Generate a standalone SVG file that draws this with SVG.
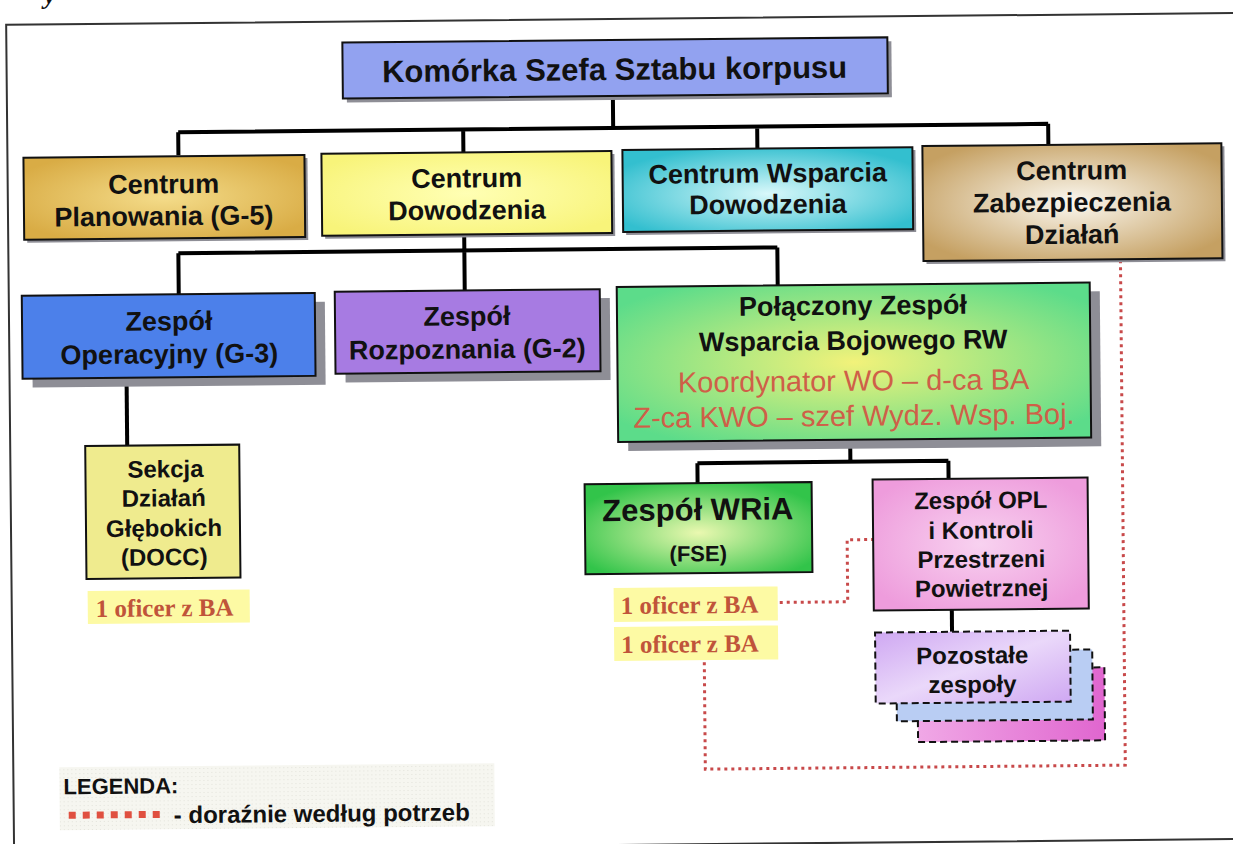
<svg xmlns="http://www.w3.org/2000/svg" width="1233" height="844" viewBox="0 0 1233 844">
  <defs>
    <style>
      .box { stroke: #111; stroke-width: 2; }
      .dash { stroke: #111; stroke-width: 2; stroke-dasharray: 7 4; }
      .shadow { fill: #8e8e96; }
      .t { font-family: "Liberation Sans", Arial, sans-serif; font-weight: bold; fill: #111; text-anchor: middle; }
      .red { font-family: "Liberation Sans", Arial, sans-serif; fill: #cf5f48; text-anchor: middle; }
      .lbl { font-family: "Liberation Serif", "Times New Roman", serif; font-weight: bold; fill: #c0543a; }
      .lblbg { fill: #fdfaa4; }
      .link { fill: none; stroke: #000; stroke-width: 4; stroke-linejoin: miter; }
      .adhoc { fill: none; stroke: #c8494a; stroke-width: 3; stroke-dasharray: 3 4; }
    </style>
    <radialGradient id="gGold" cx="50%" cy="50%" r="60%">
      <stop offset="0" stop-color="#f4dc8a"/>
      <stop offset="1" stop-color="#d9ac45"/>
    </radialGradient>
    <radialGradient id="gYellow" cx="50%" cy="50%" r="60%">
      <stop offset="0" stop-color="#ffffb4"/>
      <stop offset="1" stop-color="#f8f47a"/>
    </radialGradient>
    <radialGradient id="gCyan" cx="50%" cy="55%" r="60%">
      <stop offset="0" stop-color="#d8f8fa"/>
      <stop offset="1" stop-color="#33bfcf"/>
    </radialGradient>
    <radialGradient id="gTan" cx="50%" cy="50%" r="60%">
      <stop offset="0" stop-color="#fbf8f0"/>
      <stop offset="1" stop-color="#c5a062"/>
    </radialGradient>
    <radialGradient id="gGreen" cx="50%" cy="50%" r="62%">
      <stop offset="0" stop-color="#f2f27a"/>
      <stop offset="1" stop-color="#5cdc8a"/>
    </radialGradient>
    <radialGradient id="gWria" cx="50%" cy="55%" r="60%">
      <stop offset="0" stop-color="#eaf8b0"/>
      <stop offset="1" stop-color="#32c44a"/>
    </radialGradient>
    <radialGradient id="gPink" cx="50%" cy="50%" r="60%">
      <stop offset="0" stop-color="#f8d2f0"/>
      <stop offset="1" stop-color="#ee9cdc"/>
    </radialGradient>
    <linearGradient id="gLav" x1="0" y1="0" x2="1" y2="1">
      <stop offset="0" stop-color="#cfa8f2"/>
      <stop offset="0.5" stop-color="#ead8fa"/>
      <stop offset="1" stop-color="#cfa8f2"/>
    </linearGradient>
    <linearGradient id="gMag" x1="0" y1="0" x2="1" y2="0">
      <stop offset="0" stop-color="#f0a8e6"/>
      <stop offset="1" stop-color="#e066cf"/>
    </linearGradient>
    <pattern id="legendDots" width="4" height="4" patternUnits="userSpaceOnUse">
      <rect width="4" height="4" fill="#f6f6f0"/>
      <rect width="1" height="1" fill="#e2e2da"/>
    </pattern>
  </defs>

  <rect width="1233" height="844" fill="#ffffff"/>
  <text x="44" y="4" font-family="Liberation Serif, serif" font-weight="bold" font-style="italic" font-size="26" fill="#111">y</text>

  <g transform="rotate(-0.55 616 422)">
    <!-- page frame -->
    <rect x="10" y="19" width="1240" height="826" fill="none" stroke="#333" stroke-width="2"/>

    <!-- connectors -->
    <g id="connectors">
      <path class="link" d="M616 96 V128 M181 128 H1051 M181 128 V151 M466 128 V151 M760 128 V151 M1051 128 V151"/>
      <path class="link" d="M466 232 V289 M180 249 H779 M180 249 V290 M779 249 V287"/>
      <path class="link" d="M127 373 V441"/>
      <path class="link" d="M850 442 V464 M697 464 H948 M697 464 V484 M948 464 V482"/>
      <path class="link" d="M950 613 V635"/>
      <path class="adhoc" d="M778 604 H846 V542 H872"/>
      <path class="adhoc" d="M1122 265 V770 H702 V662"/>
    </g>

    <g id="chief">
      <rect class="shadow" x="350" y="44" width="545" height="56"/>
      <rect class="box" x="346" y="40" width="545" height="56" fill="#92a2f0"/>
      <text class="t" x="618" y="80" font-size="31">Komórka Szefa Sztabu korpusu</text>
    </g>

    <g id="planowanie">
      <rect class="shadow" x="29" y="155" width="281" height="82"/>
      <rect class="box" x="26" y="152" width="281" height="82" fill="url(#gGold)"/>
      <text class="t" x="166" y="189" font-size="27">Centrum</text>
      <text class="t" x="166" y="221" font-size="27">Planowania (G-5)</text>
    </g>

    <g id="dowodzenie">
      <rect class="shadow" x="327" y="154" width="290" height="82"/>
      <rect class="box" x="324" y="151" width="290" height="82" fill="url(#gYellow)"/>
      <text class="t" x="469" y="186" font-size="27">Centrum</text>
      <text class="t" x="469" y="218" font-size="27">Dowodzenia</text>
    </g>

    <g id="wsparcie">
      <rect class="shadow" x="628" y="153" width="290" height="82"/>
      <rect class="box" x="625" y="150" width="290" height="82" fill="url(#gCyan)"/>
      <text class="t" x="770" y="184" font-size="27">Centrum Wsparcia</text>
      <text class="t" x="770" y="215" font-size="27">Dowodzenia</text>
    </g>

    <g id="zabezpieczenie">
      <rect class="shadow" x="928" y="152" width="299" height="115"/>
      <rect class="box" x="925" y="149" width="299" height="115" fill="url(#gTan)"/>
      <text class="t" x="1074" y="184" font-size="27">Centrum</text>
      <text class="t" x="1074" y="216" font-size="27">Zabezpieczenia</text>
      <text class="t" x="1074" y="248" font-size="27">Działań</text>
    </g>

    <g id="operacyjny">
      <rect class="shadow" x="33" y="299" width="293" height="83"/>
      <rect class="box" x="23" y="290" width="293" height="83" fill="#4c80ea"/>
      <text class="t" x="170" y="326" font-size="27">Zespół</text>
      <text class="t" x="170" y="359" font-size="27">Operacyjny (G-3)</text>
    </g>

    <g id="rozpoznanie">
      <rect class="shadow" x="346" y="298" width="265" height="82"/>
      <rect class="box" x="336" y="289" width="265" height="82" fill="#a77be2"/>
      <text class="t" x="468" y="324" font-size="27">Zespół</text>
      <text class="t" x="468" y="357" font-size="27">Rozpoznania (G-2)</text>
    </g>

    <g id="wsparcie-bojowe">
      <rect class="shadow" x="628" y="296" width="473" height="155"/>
      <rect class="box" x="618" y="287" width="473" height="155" fill="url(#gGreen)"/>
      <text class="t" x="854" y="317" font-size="27">Połączony Zespół</text>
      <text class="t" x="854" y="352" font-size="27">Wsparcia Bojowego RW</text>
      <text class="red" x="854" y="393" font-size="29">Koordynator WO – d-ca BA</text>
      <text class="red" x="854" y="428" font-size="29">Z-ca KWO – szef Wydz. Wsp. Boj.</text>
    </g>

    <g id="sekcja-docc">
      <rect class="box" x="85" y="441" width="154" height="133" fill="#efeb8e"/>
      <text class="t" x="165" y="473" font-size="24">Sekcja</text>
      <text class="t" x="163" y="502" font-size="24">Działań</text>
      <text class="t" x="163" y="532" font-size="24">Głębokich</text>
      <text class="t" x="163" y="561" font-size="24">(DOCC)</text>
    </g>

    <g id="oficer-docc">
      <rect class="lblbg" x="86" y="586" width="162" height="33"/>
      <text class="lbl" x="94" y="612" font-size="25">1 oficer z  BA</text>
    </g>

    <g id="zespol-wria">
      <rect class="box" x="584" y="484" width="227" height="90" fill="url(#gWria)"/>
      <text class="t" x="697" y="521" font-size="31">Zespół WRiA</text>
      <text class="t" x="697" y="562" font-size="22">(FSE)</text>
    </g>

    <g id="oficer-wria-1">
      <rect class="lblbg" x="612" y="588" width="164" height="34"/>
      <text class="lbl" x="619" y="614" font-size="25">1 oficer z  BA</text>
    </g>

    <g id="oficer-wria-2">
      <rect class="lblbg" x="612" y="627" width="164" height="34"/>
      <text class="lbl" x="619" y="653" font-size="25">1 oficer z  BA</text>
    </g>

    <g id="zespol-opl">
      <rect class="box" x="872" y="482" width="215" height="131" fill="url(#gPink)"/>
      <text class="t" x="980" y="512" font-size="24">Zespół OPL</text>
      <text class="t" x="980" y="542" font-size="24">i Kontroli</text>
      <text class="t" x="980" y="571" font-size="24">Przestrzeni</text>
      <text class="t" x="980" y="600" font-size="24">Powietrznej</text>
    </g>

    <g id="pozostale-zespoly">
      <rect class="dash" x="915" y="672" width="187" height="73" fill="url(#gMag)"/>
      <rect class="dash" x="894" y="654" width="196" height="70" fill="#b9cdf3"/>
      <rect class="dash" x="873" y="635" width="195" height="71" fill="url(#gLav)"/>
      <text class="t" x="970" y="667" font-size="24">Pozostałe</text>
      <text class="t" x="970" y="696" font-size="24">zespoły</text>
    </g>

    <g id="legenda">
      <rect x="56" y="762" width="435" height="63" fill="url(#legendDots)"/>
      <text x="60" y="789" font-family="Liberation Sans, Arial, sans-serif" font-weight="bold" font-size="22" fill="#111">LEGENDA:</text>
      <line x1="65" y1="810" x2="163" y2="810" stroke="#e05040" stroke-width="7" stroke-dasharray="7 7"/>
      <text x="170" y="819" font-family="Liberation Sans, Arial, sans-serif" font-weight="bold" font-size="24" fill="#111">- doraźnie według potrzeb</text>
    </g>
  </g>
</svg>
